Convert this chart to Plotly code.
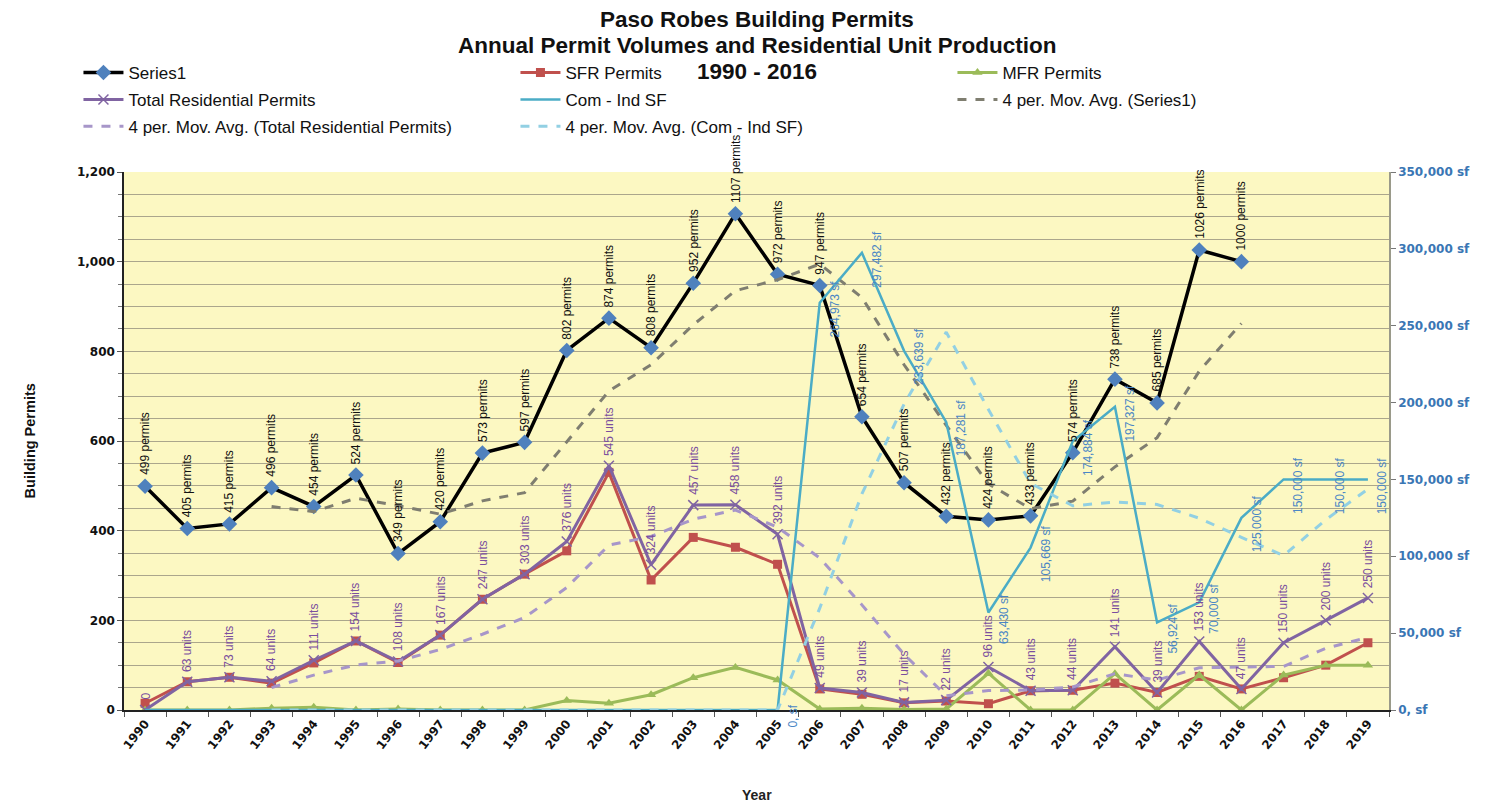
import plotly.graph_objects as go
import pandas as pd

years = [str(y) for y in range(1990, 2020)]

series1 = [499, 405, 415, 496, 454, 524, 349, 420, 573, 597, 802, 874, 808, 952, 1107,
           972, 947, 654, 507, 432, 424, 433, 574, 738, 685, 1026, 1000, None, None, None]
sfr = [15, 63, 73, 60, 105, 154, 106, 167, 247, 303, 355, 530, 290, 385, 363,
       325, 47, 35, 16, 20, 14, 43, 44, 60, 39, 75, 47, 72, 100, 150]
mfr = [0, 0, 0, 4, 6, 0, 2, 0, 0, 0, 21, 15, 34, 72, 95,
       67, 2, 4, 1, 2, 82, 0, 0, 81, 0, 78, 0, 78, 100, 100]
total = [0, 63, 73, 64, 111, 154, 108, 167, 247, 303, 376, 545, 324, 457, 458,
         392, 49, 39, 17, 22, 96, 43, 44, 141, 39, 153, 47, 150, 200, 250]
comind = [0, 0, 0, 0, 0, 0, 0, 0, 0, 0, 0, 0, 0, 0, 0,
          0, 264973, 297482, 233639, 187281, 63430, 105669, 174884, 197327, 56924,
          70000, 125000, 150000, 150000, 150000]

left_ticks = [0, 200, 400, 600, 800, 1000, 1200]
right_ticks = [0, 50000, 100000, 150000, 200000, 250000, 300000, 350000]
right_ticktext = ["0, sf", "50,000 sf", "100,000 sf", "150,000 sf", "200,000 sf",
                  "250,000 sf", "300,000 sf", "350,000 sf"]
title_lines = ["Paso Robes Building Permits",
               "Annual Permit Volumes and Residential Unit Production",
               "1990 - 2016"]

# 4-period moving-average trendlines (as in the source chart)
def mov_avg(vals):
    s = pd.Series(vals, dtype=float).rolling(4).mean()
    return [None if pd.isna(v) else v for v in s]

ma_series1 = mov_avg(series1)
ma_total = mov_avg(total)
ma_comind = mov_avg(comind)

FONT = "Liberation Sans, Arial, sans-serif"
BOLDW = "DejaVu Sans, Verdana, sans-serif"

C_BLACK = "#000000"
C_DIAM = "#4F81BD"
C_RED = "#C0504D"
C_GREEN = "#9BBB59"
C_PURPLE = "#8064A2"
C_CYAN = "#4BACC6"
C_MA1 = "#7F7E70"
C_MAT = "#A796C9"
C_MAC = "#92D0E3"

fig = go.Figure()

fig.add_trace(go.Scatter(x=years, y=series1, name="Series1", mode="lines+markers",
                         line=dict(color=C_BLACK, width=3.5),
                         marker=dict(symbol="diamond", size=12, color=C_DIAM),
                         legend="legend"))
fig.add_trace(go.Scatter(x=years, y=sfr, name="SFR Permits", mode="lines+markers",
                         line=dict(color=C_RED, width=3),
                         marker=dict(symbol="square", size=9, color=C_RED),
                         legend="legend"))
fig.add_trace(go.Scatter(x=years, y=mfr, name="MFR Permits", mode="lines+markers",
                         line=dict(color=C_GREEN, width=3),
                         marker=dict(symbol="triangle-up", size=9, color=C_GREEN),
                         legend="legend"))
fig.add_trace(go.Scatter(x=years, y=total, name="Total Residential Permits", mode="lines+markers",
                         line=dict(color=C_PURPLE, width=3),
                         marker=dict(symbol="x-thin", size=10, line=dict(color=C_PURPLE, width=1.5)),
                         legend="legend2"))
fig.add_trace(go.Scatter(x=years, y=comind, name="Com - Ind SF", mode="lines", yaxis="y2",
                         line=dict(color=C_CYAN, width=2.5),
                         legend="legend2"))
fig.add_trace(go.Scatter(x=years, y=ma_series1, name="4 per. Mov. Avg. (Series1)", mode="lines",
                         line=dict(color=C_MA1, width=3, dash="dash"),
                         legend="legend2"))
fig.add_trace(go.Scatter(x=years, y=ma_total, name="4 per. Mov. Avg. (Total Residential Permits)",
                         mode="lines", line=dict(color=C_MAT, width=3, dash="dash"),
                         legend="legend3"))
fig.add_trace(go.Scatter(x=years, y=ma_comind, name="4 per. Mov. Avg. (Com - Ind SF)",
                         mode="lines", yaxis="y2", line=dict(color=C_MAC, width=3, dash="dash"),
                         legend="legend3"))

ann = []
for i, v in enumerate(series1):
    if v is None:
        continue
    ann.append(dict(x=i, y=v, xref="x", yref="y", text=f"{v} permits", textangle=-90,
                    showarrow=False, yanchor="bottom", xanchor="center", yshift=9,
                    font=dict(family=FONT, size=12, color="#111111")))
for i, v in enumerate(total):
    txt = "0" if v == 0 else f"{v} units"
    ann.append(dict(x=i, y=v, xref="x", yref="y", text=txt, textangle=-90,
                    showarrow=False, yanchor="bottom", xanchor="center", yshift=8,
                    font=dict(family=FONT, size=12, color="#7A4E9E")))
for i, v in enumerate(comind):
    if i < 15:
        continue
    txt = "0, sf" if v == 0 else f"{v:,} sf"
    ann.append(dict(x=i, y=v, xref="x", yref="y2", text=txt, textangle=-90,
                    showarrow=False, yanchor="middle", xanchor="left", xshift=6, yshift=-6,
                    font=dict(family=FONT, size=12, color="#4A86C5")))

for txt, yp in zip(title_lines, [1.2842, 1.2351, 1.1859]):
    ann.append(dict(x=0.5, y=yp, xref="paper", yref="paper", text=f"<b>{txt}</b>",
                    showarrow=False, xanchor="center", yanchor="middle",
                    font=dict(family=FONT, size=22.5, color="#111111")))

ann.append(dict(x=0.5, y=-0.158, xref="paper", yref="paper", text="<b>Year</b>", showarrow=False,
                yanchor="middle", font=dict(family=FONT, size=14, color="#222222")))
ann.append(dict(x=-0.074, y=0.5, xref="paper", yref="paper", text="<b>Building Permits</b>",
                showarrow=False, textangle=-90, xanchor="center",
                font=dict(family=FONT, size=14.5, color="#111111")))

GRID = "#ABA68C"

legend_common = dict(orientation="h", entrywidth=382, entrywidthmode="pixels", itemwidth=40,
                     bgcolor="rgba(0,0,0,0)", font=dict(family=FONT, size=17, color="#111111"),
                     xanchor="left", yanchor="middle", itemclick=False)

fig.update_layout(
    width=1485, height=798,
    margin=dict(l=116, r=104, t=164, b=96),
    paper_bgcolor="white",
    plot_bgcolor="#FCF8C2",
    font=dict(family=FONT, color="#111111"),
    showlegend=True,
    legend=dict(x=-0.036, y=1.184, **legend_common),
    legend2=dict(x=-0.036, y=1.134, **legend_common),
    legend3=dict(x=-0.036, y=1.084, **legend_common),
    xaxis=dict(type="category", range=[-0.5, 29.5], showline=True, linecolor="#222222", linewidth=1.5,
               ticks="outside", tickson="boundaries", ticklen=5, tickcolor="#555555",
               tickangle=-52, showgrid=False,
               tickfont=dict(family=BOLDW, size=12, color="#111111", weight="bold")),
    yaxis=dict(range=[0, 1200], tickvals=left_ticks, tickformat=",", showline=True,
               linecolor="#222222", linewidth=1.5, ticks="outside", ticklen=5, tickcolor="#555555",
               showgrid=True, gridcolor=GRID, gridwidth=1.3, zeroline=False,
               minor=dict(dtick=50, showgrid=True, gridcolor=GRID, gridwidth=1.3,
                          ticks="outside", ticklen=4, tickcolor="#777777"),
               tickfont=dict(family=BOLDW, size=12, color="#111111", weight="bold")),
    yaxis2=dict(range=[0, 350000], overlaying="y", side="right", tickvals=right_ticks,
                ticktext=right_ticktext, showline=True, linecolor="#9A9A8A", linewidth=1.5,
                ticks="outside", ticklen=5, tickcolor="#777777", showgrid=False, zeroline=False,
                tickfont=dict(family=BOLDW, size=12, color="#3A76B4", weight="bold")),
    annotations=ann,
)

fig.write_html("out.html")
